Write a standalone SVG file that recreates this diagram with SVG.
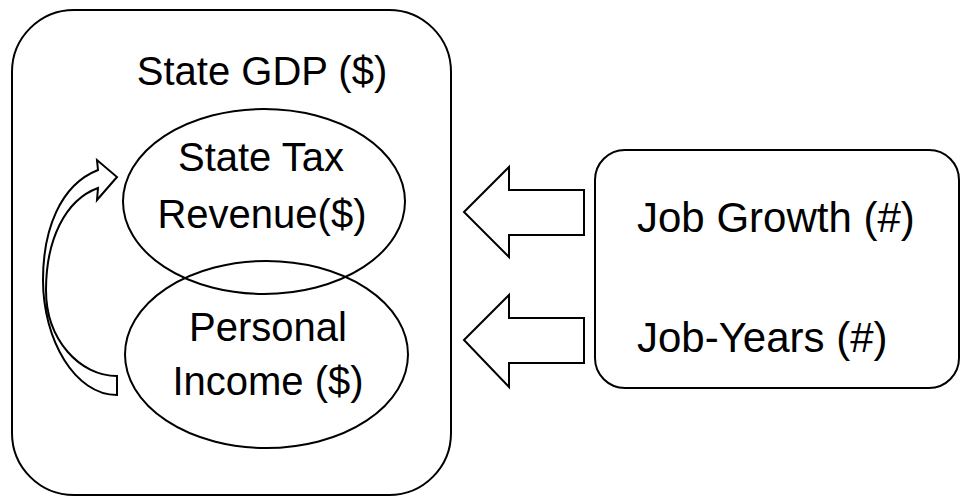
<svg xmlns="http://www.w3.org/2000/svg" width="961" height="496" viewBox="0 0 961 496">
  <style>
    .shape { fill: none; stroke: #000; stroke-width: 2; }
    .arrow { fill: #fff; stroke: #000; stroke-width: 2; stroke-linejoin: miter; }
    .lbl { font-family: "Liberation Sans", Arial, sans-serif; font-size: 40px; fill: #000; }
    .mid { text-anchor: middle; }
    .big { font-size: 42px; }
  </style>
  <rect width="961" height="496" fill="#fff"/>
  <g id="state-gdp">
    <rect class="shape" x="12" y="10" width="439" height="485" rx="62" ry="62"/>
    <text class="lbl mid" x="262" y="85">State GDP ($)</text>
  </g>
  <g id="state-tax-revenue">
    <ellipse class="shape" cx="264" cy="201.5" rx="141" ry="92.5"/>
    <text class="lbl mid" x="261" y="171">State Tax</text>
    <text class="lbl mid" x="262" y="228">Revenue($)</text>
  </g>
  <g id="personal-income">
    <ellipse class="shape" cx="266.5" cy="354.5" rx="141.5" ry="93.5"/>
    <text class="lbl mid" x="268" y="341">Personal</text>
    <text class="lbl mid" x="268" y="395">Income ($)</text>
  </g>
  <g id="jobs">
    <rect class="shape" x="595" y="150" width="364" height="238" rx="30" ry="30"/>
    <text class="lbl big" x="637" y="232">Job Growth (#)</text>
    <text class="lbl big" x="637" y="352">Job-Years (#)</text>
  </g>
  <g id="connectors">
    <path class="arrow" d="M117,395 C75,395 43,340 43,280 C43,230 60,185 98,170 L97,160 L117,177 L97,200 L98,188 C65,200 46,240 46,290 C46,340 80,376 117,376 Z"/>
    <polygon class="arrow" points="464,212 509,167 509,190 584,190 584,235 509,235 509,257"/>
    <polygon class="arrow" points="464,340 509,295 509,318 584,318 584,363 509,363 509,387"/>
  </g>
</svg>
